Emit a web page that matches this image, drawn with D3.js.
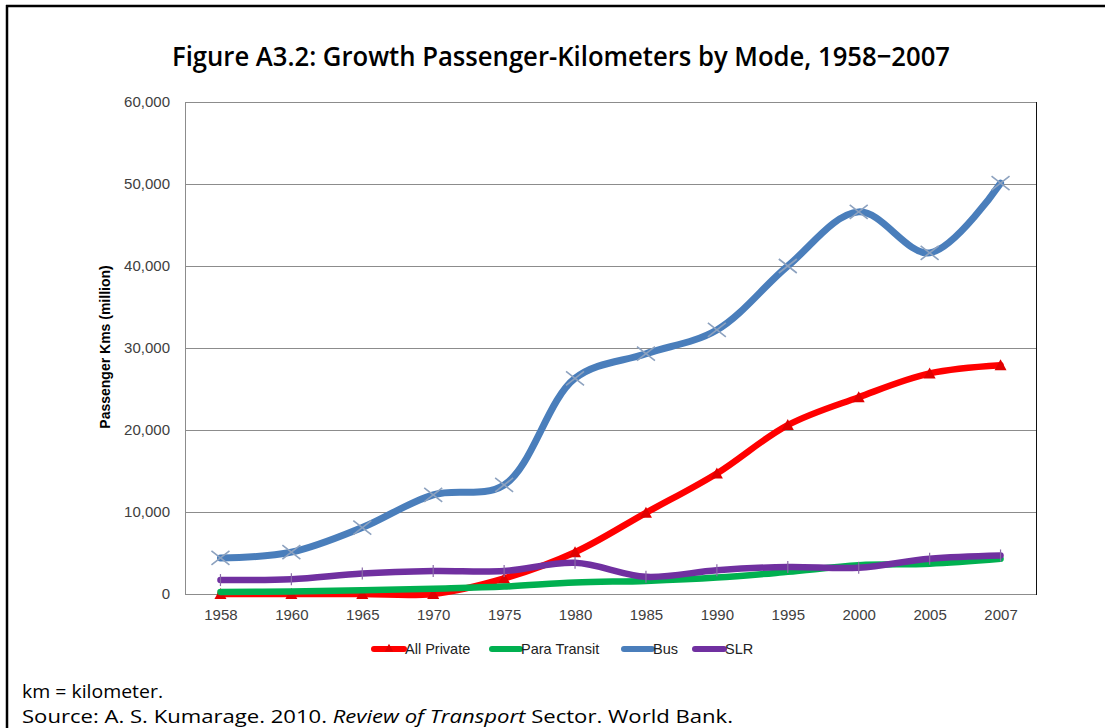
<!DOCTYPE html>
<html lang="en">
<head>
  <meta charset="UTF-8">
  <title>Growth Passenger-Kilometers by Mode</title>
  <script src="https://d3js.org/d3.v7.min.js"></script>
  <style>
    body {
      margin: 0;
      background: #fff;
    }
    .tick text {
      font-family: "Liberation Sans", Arial, sans-serif;
      font-size: 15px;
      fill: #404040;
    }
    .note {
      font-family: "Open Sans", "Noto Sans", sans-serif;
      font-size: 18.5px;
      fill: #000;
    }
  </style>
</head>
<body>
  <svg id="chart" width="1105" height="728"></svg>

  <script>
    // data
    const years = ["1958", "1960", "1965", "1970", "1975", "1980", "1985", "1990", "1995", "2000", "2005", "2007"];
    const allPrivate = [0, 0, 0, 0, 1900, 5100, 9900, 14700, 20600, 24000, 26900, 27900];
    const paraTransit = [250, 300, 450, 650, 900, 1400, 1600, 2000, 2700, 3500, 3700, 4300];
    const bus = [4400, 5100, 8100, 12100, 13300, 26300, 29300, 32200, 40000, 46600, 41600, 50100];
    const slr = [1700, 1800, 2500, 2800, 2800, 3800, 2100, 2900, 3300, 3200, 4300, 4700];
    const yTicks = [0, 10000, 20000, 30000, 40000, 50000, 60000];

    const series = [
      { name: "All Private", values: allPrivate, color: "#ff0000", marker: "triangle" },
      { name: "Para Transit", values: paraTransit, color: "#00b050", marker: "none" },
      { name: "Bus", values: bus, color: "#4a7ebb", marker: "cross" },
      { name: "SLR", values: slr, color: "#7030a0", marker: "tick" }
    ];

    const svg = d3.select("#chart");
    const plotLeft = 185, plotRight = 1036, plotTop = 102, plotBottom = 594;

    const x = d3.scalePoint().domain(years).range([plotLeft, plotRight]).padding(0.5);
    const y = d3.scaleLinear().domain([0, 60000]).range([plotBottom, plotTop]);

    // page frame (top and left rule)
    svg.append("line").attr("x1", 6).attr("x2", 1105).attr("y1", 6).attr("y2", 6)
      .attr("stroke", "#000").attr("stroke-width", 2.5);
    svg.append("line").attr("x1", 7).attr("x2", 7).attr("y1", 5).attr("y2", 728)
      .attr("stroke", "#000").attr("stroke-width", 2.5);

    // title
    svg.append("text")
      .attr("x", 561).attr("y", 66)
      .attr("text-anchor", "middle")
      .attr("textLength", 778).attr("lengthAdjust", "spacingAndGlyphs")
      .style("font-family", "'Open Sans', 'Noto Sans', sans-serif")
      .style("font-size", "27px")
      .style("font-weight", 600)
      .text("Figure A3.2: Growth Passenger-Kilometers by Mode, 1958\u22122007");

    // gridlines
    svg.append("g")
      .selectAll("line")
      .data(yTicks)
      .join("line")
      .attr("x1", plotLeft).attr("x2", plotRight)
      .attr("y1", d => y(d) + 0.5).attr("y2", d => y(d) + 0.5)
      .attr("stroke", "#8c8c8c");

    // plot border: left grey, right black
    svg.append("line").attr("x1", plotLeft + 0.5).attr("x2", plotLeft + 0.5).attr("y1", plotTop).attr("y2", plotBottom + 1)
      .attr("stroke", "#8c8c8c");
    svg.append("line").attr("x1", plotRight + 0.5).attr("x2", plotRight + 0.5).attr("y1", plotTop).attr("y2", plotBottom + 1)
      .attr("stroke", "#111");

    // y axis labels
    const yAxis = svg.append("g")
      .attr("transform", `translate(${plotLeft},0)`)
      .call(d3.axisLeft(y).tickValues(yTicks).tickFormat(d3.format(",")).tickSize(0).tickPadding(15));
    yAxis.select(".domain").remove();

    // x axis labels
    const xAxis = svg.append("g")
      .attr("transform", `translate(0,${plotBottom})`)
      .call(d3.axisBottom(x).tickSize(0).tickPadding(15));
    xAxis.select(".domain").remove();

    // y axis title
    svg.append("text")
      .attr("transform", "translate(110,347) rotate(-90)")
      .attr("text-anchor", "middle")
      .style("font-family", "'Liberation Sans', Arial, sans-serif")
      .style("font-size", "14px")
      .style("font-weight", "bold")
      .text("Passenger Kms (million)");

    const line = d3.line()
      .x((d, i) => x(years[i]))
      .y(d => y(d))
      .curve(d3.curveCatmullRom.alpha(0.5));

    function drawMarker(g, type) {
      if (type === "triangle") {
        g.append("path").attr("d", "M0,-6L6,5L-6,5Z").attr("fill", "#e00000");
      } else if (type === "cross") {
        g.append("path").attr("d", "M-9,-7L9,7M-9,7L9,-7")
          .attr("stroke", "#8da2bf").attr("stroke-width", 1.6).attr("fill", "none");
      } else if (type === "tick") {
        g.append("path").attr("d", "M0,-6L0,6")
          .attr("stroke", "#8a6aa8").attr("stroke-width", 1.2);
      }
    }

    series.forEach(s => {
      const g = svg.append("g");
      g.append("path")
        .datum(s.values)
        .attr("fill", "none")
        .attr("stroke", s.color)
        .attr("stroke-width", s.name === "Bus" ? 7 : 6.5)
        .attr("stroke-linecap", "round")
        .attr("stroke-linejoin", "round")
        .attr("d", line);
      s.values.forEach((v, i) => {
        const m = g.append("g").attr("transform", `translate(${x(years[i])},${y(v)})`);
        drawMarker(m, s.marker);
      });
    });

    // legend
    const legendItems = [
      { x: 374, w: 30 },
      { x: 492, w: 28 },
      { x: 624, w: 28 },
      { x: 695, w: 29 }
    ];
    const legend = svg.append("g").attr("transform", "translate(0,649)");
    series.forEach((s, i) => {
      const it = legendItems[i];
      legend.append("line")
        .attr("x1", it.x).attr("x2", it.x + it.w)
        .attr("stroke", s.color).attr("stroke-width", 6).attr("stroke-linecap", "round");
      if (s.marker === "triangle") {
        legend.append("path").attr("transform", `translate(${it.x + it.w / 2},-1) scale(0.7)`)
          .attr("d", "M0,-6L6,5L-6,5Z").attr("fill", "#e00000");
      }
      legend.append("text")
        .attr("x", it.x + it.w + 1).attr("y", 5)
        .style("font-family", "'Liberation Sans', Arial, sans-serif")
        .style("font-size", "14.5px")
        .style("fill", "#222")
        .text(s.name);
    });

    // notes
    svg.append("text").attr("class", "note").attr("x", 22).attr("y", 698)
      .attr("textLength", 141).attr("lengthAdjust", "spacingAndGlyphs")
      .text("km = kilometer.");
    const src = svg.append("text").attr("class", "note").attr("x", 22).attr("y", 723)
      .attr("textLength", 711).attr("lengthAdjust", "spacingAndGlyphs");
    src.append("tspan").text("Source: A. S. Kumarage. 2010. ");
    src.append("tspan").style("font-style", "italic").text("Review of Transport");
    src.append("tspan").text(" Sector. World Bank.");
  </script>
</body>
</html>
